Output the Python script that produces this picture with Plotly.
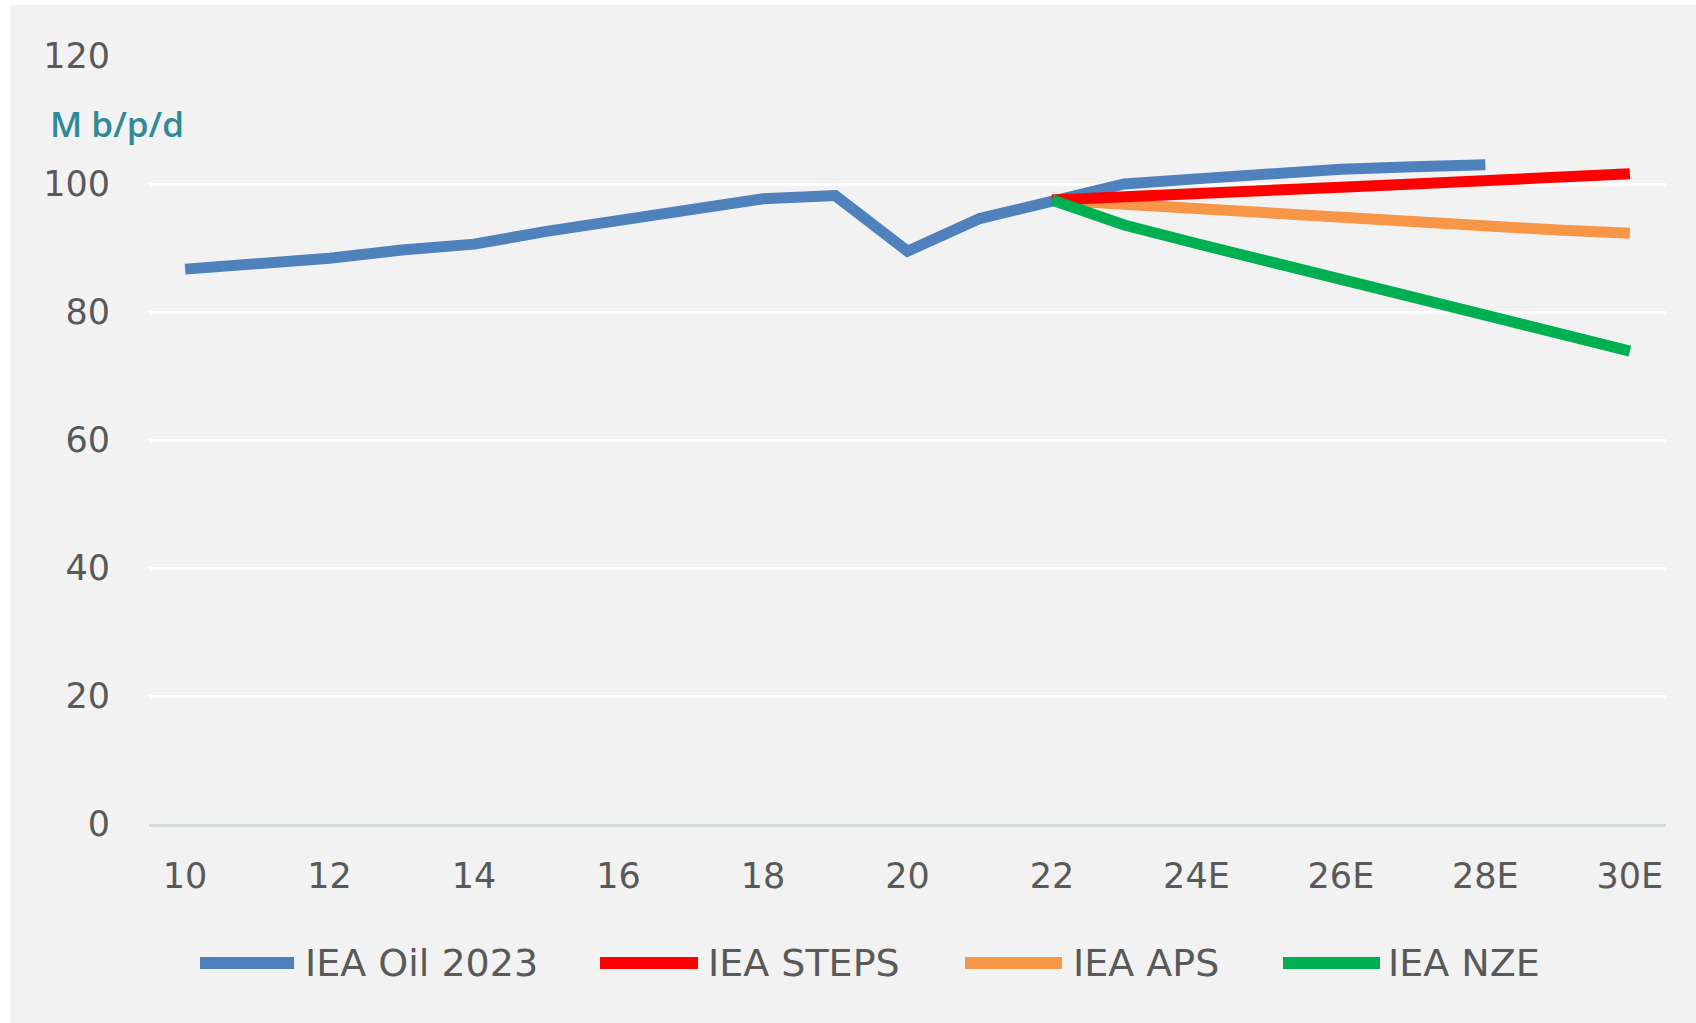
import plotly.graph_objects as go

# ---- data ----
years_hist = list(range(2010, 2029))
iea_oil_2023 = [86.7, 87.4, 88.4, 89.7, 90.6, 92.6, 94.4, 96.3, 97.7, 98.2,
                89.5, 94.6, 97.5, 100.0, 100.8, 101.7, 102.3, 102.7, 103.0]

years_scen = list(range(2022, 2031))
iea_steps = [97.5, 97.9, 98.4, 98.9, 99.5, 100.0, 100.6, 101.1, 101.6]
iea_aps = [97.5, 96.8, 96.0, 95.3, 94.8, 94.0, 93.4, 92.8, 92.3]
iea_nze = [97.5, 93.6, 90.7, 87.8, 85.0, 82.3, 79.5, 76.7, 73.9]

tick_vals = list(range(2010, 2031, 2))
tick_text = ["10", "12", "14", "16", "18", "20", "22", "24E", "26E", "28E", "30E"]

names = ["IEA Oil 2023", "IEA STEPS", "IEA APS", "IEA NZE"]
colors = ["#4f81bd", "#ff0000", "#f79646", "#00b050"]

# ---- layout geometry (pixels) ----
W, H = 1696, 1023
L, R, T, B = 149, 1666, 56, 824


def px_x(px):
    return (px - L) / (R - L)


def px_y(py):
    return (B - py) / (B - T)


fig = go.Figure()
series = [
    (years_hist, iea_oil_2023, colors[0], names[0]),
    (years_scen, iea_aps, colors[2], names[2]),
    (years_scen, iea_steps, colors[1], names[1]),
    (years_scen, iea_nze, colors[3], names[3]),
]
for xs, ys, c, n in series:
    fig.add_trace(go.Scatter(x=xs, y=ys, mode="lines", name=n,
                             line=dict(color=c, width=11), showlegend=False))

shapes = [
    dict(type="rect", xref="paper", yref="paper", x0=px_x(0), x1=px_x(10),
         y0=px_y(H), y1=px_y(0), fillcolor="white", line_width=0, layer="below"),
    dict(type="rect", xref="paper", yref="paper", x0=px_x(0), x1=px_x(W),
         y0=px_y(5), y1=px_y(0), fillcolor="white", line_width=0, layer="below"),
]
annotations = []

# custom legend
legend_items = [
    (200, 294, 303, names[0], colors[0]),
    (600, 698, 706, names[1], colors[1]),
    (965, 1062, 1071, names[2], colors[2]),
    (1283, 1380, 1386, names[3], colors[3]),
]
ly = 963
for x0, x1, tx, n, c in legend_items:
    shapes.append(dict(type="line", xref="paper", yref="paper",
                       x0=px_x(x0), x1=px_x(x1), y0=px_y(ly), y1=px_y(ly),
                       line=dict(color=c, width=12)))
    annotations.append(dict(xref="paper", yref="paper", x=px_x(tx), y=px_y(ly),
                            text=n, showarrow=False, xanchor="left", yanchor="middle",
                            font=dict(family="DejaVu Sans", size=38, color="#595959")))

annotations.append(dict(xref="paper", yref="paper", x=px_x(48), y=px_y(123),
                        text="M b/p/d", showarrow=False, xanchor="left",
                        yanchor="middle",
                        font=dict(family="Open Sans", size=35, weight=600,
                                  color="#2e8a96")))

fig.update_layout(
    width=W, height=H,
    margin=dict(l=L, r=W - R, t=T, b=H - B),
    paper_bgcolor="#f2f2f2", plot_bgcolor="#f2f2f2",
    shapes=shapes, annotations=annotations,
    showlegend=False,
    xaxis=dict(range=[2009.5, 2030.5], tickvals=tick_vals, ticktext=tick_text,
               showgrid=False, zeroline=False, showline=True,
               linecolor="#d3dcd7", linewidth=3, ticks="",
               ticklabelstandoff=19,
               tickfont=dict(family="DejaVu Sans", size=35, color="#595959")),
    yaxis=dict(range=[0, 120], tickvals=[0, 20, 40, 60, 80, 100, 120],
               showgrid=True, gridcolor="white", gridwidth=3, zeroline=False,
               ticks="", ticklabelstandoff=38,
               tickfont=dict(family="DejaVu Sans", size=35, color="#595959")),
)

fig.write_html("out.html")
